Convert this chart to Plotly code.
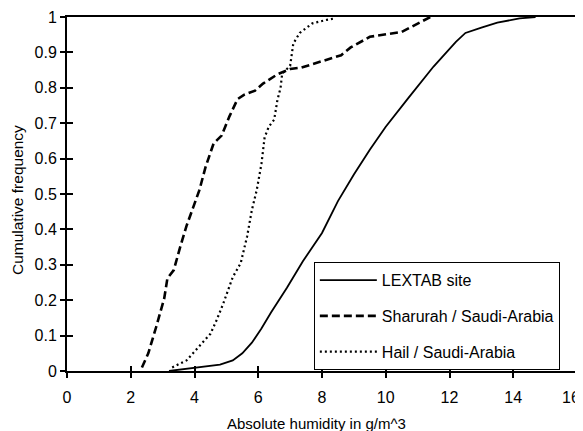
import plotly.graph_objects as go

# LEXTAB site (solid)
lextab_x = [3.2, 3.7, 4.0, 4.5, 4.8, 5.2, 5.5, 5.8, 6.1, 6.4, 6.9, 7.4, 8.0, 8.5, 9.0,
            9.5, 10.0, 10.7, 11.5, 12.2, 12.5, 13.0, 13.5, 14.2, 14.7]
lextab_y = [0.0, 0.005, 0.01, 0.013, 0.018, 0.03, 0.05, 0.08, 0.12, 0.165, 0.235, 0.31, 0.39, 0.48, 0.555,
            0.625, 0.69, 0.77, 0.86, 0.93, 0.955, 0.97, 0.984, 0.996, 1.0]

# Sharurah / Saudi-Arabia (dashed)
sharurah_x = [2.35, 2.55, 2.8, 3.05, 3.15, 3.35, 3.55, 3.75, 3.95, 4.15, 4.35, 4.6, 4.85, 5.1,
              5.35, 5.55, 5.9, 6.15, 6.6, 7.0, 7.35, 7.9, 8.6, 8.9, 9.5, 10.5, 11.0, 11.4]
sharurah_y = [0.01, 0.05, 0.125, 0.205, 0.262, 0.285, 0.35, 0.41, 0.46, 0.51, 0.577, 0.643, 0.665, 0.72,
              0.768, 0.78, 0.792, 0.812, 0.838, 0.853, 0.857, 0.872, 0.892, 0.914, 0.944, 0.958, 0.982, 1.0]

# Hail / Saudi-Arabia (dotted)
hail_x = [3.3, 3.75, 4.15, 4.5, 4.7, 4.9, 5.2, 5.45, 5.65, 5.8, 5.95, 6.1, 6.2, 6.33, 6.5,
          6.6, 6.7, 6.75, 7.0, 7.1, 7.3, 7.7, 8.15, 8.4]
hail_y = [0.01, 0.03, 0.07, 0.105, 0.145, 0.19, 0.265, 0.305, 0.38, 0.455, 0.51, 0.585, 0.66, 0.69, 0.71,
          0.765, 0.8, 0.84, 0.862, 0.925, 0.955, 0.982, 0.992, 0.996]

# x-axis tick values / labels
x_ticks = [0, 2, 4, 6, 8, 10, 12, 14, 16]
x_tick_labels = ["0", "2", "4", "6", "8", "10", "12", "14", "16"]

names = ["LEXTAB site", "Sharurah / Saudi-Arabia", "Hail / Saudi-Arabia"]
x_title = "Absolute humidity in g/m^3"
y_title = "Cumulative frequency"

FONT = "Liberation Sans, Arial, sans-serif"

fig = go.Figure()
fig.add_trace(go.Scatter(x=lextab_x, y=lextab_y, mode="lines", name=names[0], legendgroup="a",
                         line=dict(color="black", width=1.8, dash="solid")))
fig.add_trace(go.Scatter(x=sharurah_x, y=sharurah_y, mode="lines", name=names[1], legendgroup="b",
                         line=dict(color="black", width=2.6, dash="8px,4px")))
fig.add_trace(go.Scatter(x=hail_x, y=hail_y, mode="lines", name=names[2], legendgroup="c",
                         line=dict(color="black", width=2.2, dash="2px,3px")))
# empty trace so the overlay axes (inner half of the crossing ticks) are rendered
fig.add_trace(go.Scatter(x=[], y=[], xaxis="x2", yaxis="y2", showlegend=False, hoverinfo="skip"))

# the last x label sits at the window edge; draw it as a text nudged slightly left
main_labels = x_tick_labels[:-1] + [""]

# page body adds an 8px offset; figure sized to fill the visible window
fig.update_layout(
    width=575, height=423,
    margin=dict(l=59, r=6, t=9, b=60),
    paper_bgcolor="white", plot_bgcolor="white",
    font=dict(family=FONT, size=16, color="black"),
    showlegend=True,
    legend=dict(x=0.484, y=0.155, xanchor="left", yanchor="middle",
                bordercolor="black", borderwidth=1, bgcolor="white",
                font=dict(size=16), tracegroupgap=12, itemwidth=57),
    xaxis=dict(range=[0, 16], tickmode="array", tickvals=x_ticks, ticktext=main_labels,
               showgrid=False, zeroline=False,
               automargin=False, ticklabeloverflow="allow", ticklabelstandoff=6,
               showline=True, linecolor="black", linewidth=2, mirror=True,
               ticks="outside", ticklen=5, tickwidth=1.5, tickcolor="black"),
    yaxis=dict(range=[0, 1], dtick=0.1, tick0=0, showgrid=False, zeroline=False,
               automargin=False, ticklabeloverflow="allow", ticklabelstandoff=0,
               showline=True, linecolor="black", linewidth=2, mirror=True,
               ticks="outside", ticklen=5, tickwidth=1.5, tickcolor="black"),
    xaxis2=dict(range=[0, 16], tickmode="array", tickvals=x_ticks, overlaying="x", anchor="y2",
                side="bottom", automargin=False,
                showgrid=False, zeroline=False, showline=False, showticklabels=False,
                ticks="inside", ticklen=5, tickwidth=1.5, tickcolor="black"),
    yaxis2=dict(range=[0, 1], dtick=0.1, tick0=0, overlaying="y", anchor="x2", side="left",
                automargin=False,
                showgrid=False, zeroline=False, showline=False, showticklabels=False,
                ticks="inside", ticklen=6, tickwidth=1.5, tickcolor="black"),
    annotations=[
        dict(text=x_tick_labels[-1], xref="x", yref="paper", x=x_ticks[-1], y=0,
             xanchor="center", yanchor="middle", xshift=-6, yshift=-26,
             showarrow=False, font=dict(size=16)),
        dict(text=x_title, xref="paper", yref="paper", x=0.49, y=-0.147,
             xanchor="center", yanchor="middle", showarrow=False, font=dict(size=15)),
        dict(text=y_title, xref="paper", yref="paper", x=-0.098, y=0.483, textangle=-90,
             xanchor="center", yanchor="middle", showarrow=False, font=dict(size=15.5)),
    ],
)

fig.write_html("out.html")
